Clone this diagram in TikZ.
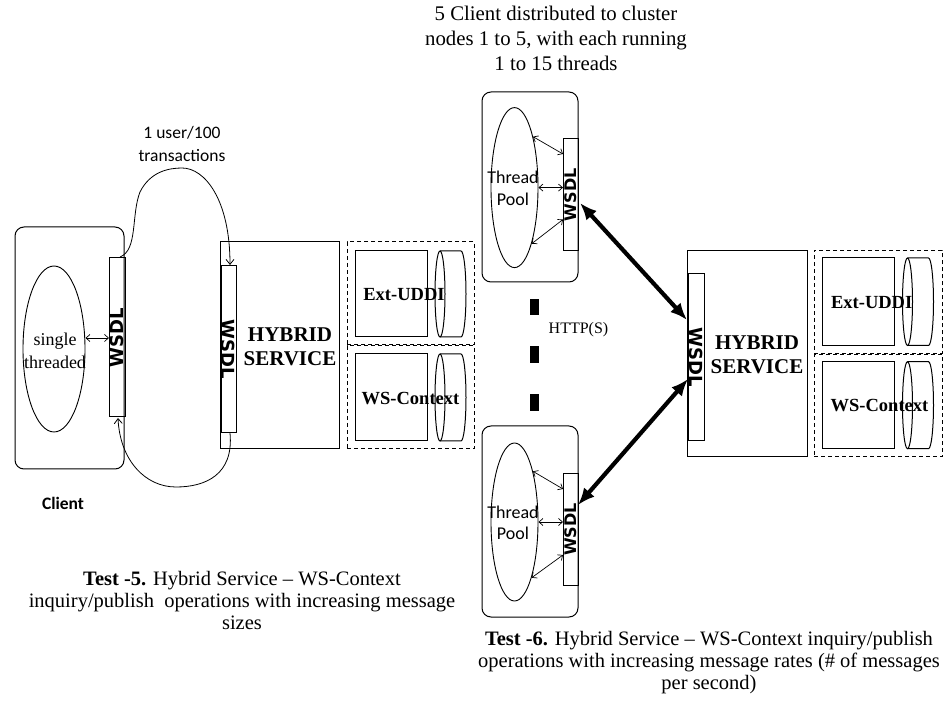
\documentclass[tikz,border=0pt]{standalone}
\usepackage{fontspec}
\setmainfont{Liberation Serif}
\newfontfamily\carl{Carlito}
\newfontfamily\dvs{DejaVu Sans}
\usetikzlibrary{shapes.geometric,arrows.meta,calc}
\tikzset{
  bx/.style={draw, line width=1pt, inner sep=0pt},
  rbox/.style={bx, rounded corners=9pt},
  dbox/.style={draw, line width=1pt, dash pattern=on 4pt off 3pt, inner sep=0pt},
  ell/.style={draw, ellipse, line width=0.9pt, inner sep=0pt},
  wbar/.style={draw, line width=1pt, inner sep=0pt, font=\dvs\bfseries\fontsize{18}{18}\selectfont},
  pbar/.style={wbar, font=\dvs\bfseries\fontsize{16}{16}\selectfont},
  sarr/.style={line width=0.7pt, {Straight Barb[length=4pt,width=7pt]}-{Straight Barb[length=4pt,width=7pt]}},
  larr/.style={line width=0.8pt, -{Straight Barb[length=5pt,width=8pt]}},
  barr/.style={line width=4.2pt, {Latex[length=17pt,width=14pt]}-{Latex[length=17pt,width=14pt]}},
  svc/.style={font=\bfseries\fontsize{18.5}{20}\selectfont, inner sep=0pt},
  hyb/.style={font=\bfseries\fontsize{21}{24}\selectfont, align=center, inner sep=0pt},
  captxt/.style={font=\fontsize{20.5}{22}\selectfont, align=center, inner sep=0pt},
  tp/.style={font=\carl\fontsize{18}{21.5}\selectfont, align=center, inner sep=0pt},
  pics/dbcyl/.style={code={
    \draw[line width=1pt] (0,0) ellipse [x radius=5, y radius=#1];
    \draw[line width=1pt] (0,-#1) -- (21,-#1) arc[start angle=-90,end angle=90,x radius=5,y radius=#1] -- (0,#1);
  }}
}
\begin{document}
\begin{tikzpicture}[x=1pt,y=-1pt]
\useasboundingbox (0,0) rectangle (946,708);

% ---------- top text
\node[captxt, font=\fontsize{20.8}{25}\selectfont, anchor=north] (toptext) at (556,5.5)
  {5 Client distributed to cluster\\nodes 1 to 5, with each running\\1 to 15 threads};

% ---------- left client
\node[rbox, minimum width=109, minimum height=242] (client) at (69.5,348) {};
\node[ell, minimum width=62, minimum height=166] (cell) at (54,349) {};
\node[font=\fontsize{18}{23}\selectfont, align=center, inner sep=0pt] (single) at (55,351) {single\\threaded};
\node[wbar, minimum width=159, minimum height=16, rotate=90] (cbar) at (117,337.5) {WSDL};
\node[font=\carl\bfseries\fontsize{17.5}{20}\selectfont, inner sep=0pt] (clientlbl) at (63,503.5) {Client};
\coordinate (c1) at (109,338);
\draw[sarr] (cell.east |- c1) -- (c1);

% ---------- hybrid service 1
\node[bx, minimum width=119, minimum height=207] (hyb1) at (279.5,345.5) {};
\node[wbar, minimum width=167, minimum height=15, rotate=-90] (hbar1) at (228.5,349.5) {WSDL};
\node[hyb] (hybtxt1) at (290,347) {HYBRID\\SERVICE};

% loop connector
\node[font=\carl\fontsize{17.5}{23}\selectfont, align=center, inner sep=0pt] (loopl) at (182,143.5) {1 user/100\\transactions};
\coordinate (la) at (120,257);
\coordinate (lb) at (230,265);
\coordinate (lc) at (230,433);
\coordinate (ld) at (118,418);
\draw[larr] (la) .. controls (138,250) and (131,215) .. (140,192)
   .. controls (150,172) and (168,168) .. (182,168)
   .. controls (205,168) and (230,200) .. (lb);
\draw[larr] (lc) .. controls (234,475) and (205,487) .. (176,487)
   .. controls (145,487) and (120,460) .. (ld);

% ---------- context 1
\node[dbox, minimum width=127, minimum height=103] (ctx1a) at (410.5,293.5) {};
\node[dbox, minimum width=127, minimum height=103] (ctx1b) at (410.5,397.5) {};
\node[bx, minimum width=72, minimum height=86] (uddi1) at (391,294) {};
\node[bx, minimum width=72, minimum height=87] (wsc1) at (391,397.5) {};
\pic at (440,294) {dbcyl=43};
\pic at (440,397.5) {dbcyl=43.5};
\node[svc] (uddit1) at (404,295) {Ext-UDDI};
\node[svc] (wsct1) at (410.5,398.5) {WS-Context};

% ---------- thread pool clients
\node[rbox, minimum width=96, minimum height=190] (pool1) at (530,187) {};
\node[ell, minimum width=47, minimum height=160] (pell1) at (514.5,187.6) {};
\node[pbar, minimum width=111.5, minimum height=15, rotate=90] (pbar1) at (570.5,194.75) {WSDL};
\node[tp] (tp1) at (513,188.5) {Thread\\Pool};
\coordinate (p1a) at (563,154);
\coordinate (p1b) at (563,187.6);
\coordinate (p1c) at (563,219.5);
\draw[sarr] (pell1.70) -- (p1a);
\draw[sarr] (pell1.east) -- (p1b);
\draw[sarr] (pell1.-73) -- (p1c);

\node[rbox, minimum width=96, minimum height=191] (pool2) at (530,521.5) {};
\node[ell, minimum width=47, minimum height=158] (pell2) at (514.5,522) {};
\node[pbar, minimum width=112, minimum height=15, rotate=90] (pbar2) at (570.5,529.5) {WSDL};
\node[tp] (tp2) at (513,523) {Thread\\Pool};
\coordinate (p2a) at (563,489);
\coordinate (p2b) at (563,522);
\coordinate (p2c) at (563,555);
\draw[sarr] (pell2.70) -- (p2a);
\draw[sarr] (pell2.east) -- (p2b);
\draw[sarr] (pell2.-73) -- (p2c);

% dots
\fill (530,299) rectangle (539,315);
\fill (530,346) rectangle (539,363);
\fill (530,394) rectangle (539,411);
\node[font=\fontsize{16}{18}\selectfont, inner sep=0pt] (http) at (578.5,330) {HTTP(S)};

% ---------- hybrid service 2
\node[bx, minimum width=120, minimum height=206.5] (hyb2) at (747,353.75) {};
\node[wbar, minimum width=167, minimum height=16, rotate=-90] (hbar2) at (696,357.5) {WSDL};
\node[hyb] (hybtxt2) at (757,355) {HYBRID\\SERVICE};

\coordinate (t1) at (580,203);
\coordinate (t2) at (687,320);
\coordinate (b1) at (578,505);
\coordinate (b2) at (688,379);
\draw[barr] (t1) -- (t2);
\draw[barr] (b1) -- (b2);

% ---------- context 2
\node[dbox, minimum width=128, minimum height=103] (ctx2a) at (878,302) {};
\node[dbox, minimum width=128, minimum height=102.5] (ctx2b) at (878,405.75) {};
\node[bx, minimum width=72, minimum height=87.5] (uddi2) at (858,301.75) {};
\node[bx, minimum width=72, minimum height=87] (wsc2) at (858,405.2) {};
\pic at (907.5,301.75) {dbcyl=43.75};
\pic at (907.5,405.2) {dbcyl=43.5};
\node[svc] (uddit2) at (871.7,303) {Ext-UDDI};
\node[svc] (wsct2) at (879.5,406) {WS-Context};

% ---------- captions
\node[captxt, anchor=north] (cap5) at (242,571)
  {\textbf{Test -5.} Hybrid Service -- WS-Context\\inquiry/publish\ \ operations with increasing message\\sizes};
\node[captxt, anchor=north] (cap6) at (709,631)
  {\textbf{Test -6.} Hybrid Service -- WS-Context inquiry/publish\\operations with increasing message rates (\# of messages\\per second)};
\end{tikzpicture}
\end{document}
